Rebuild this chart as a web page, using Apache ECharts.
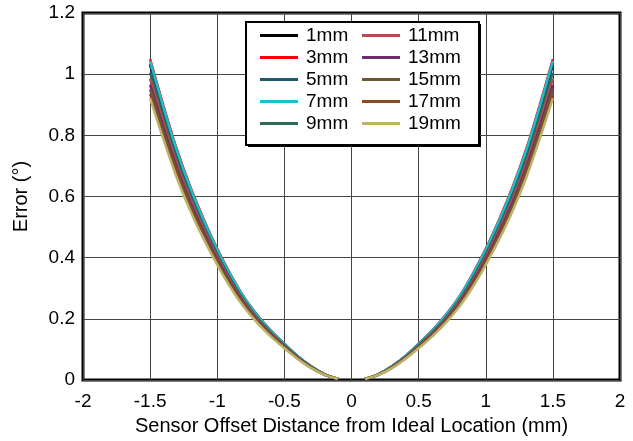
<!DOCTYPE html>
<html><head><meta charset="utf-8">
<script src="https://cdn.jsdelivr.net/npm/echarts@6/dist/echarts.min.js"></script>
<style>html,body{margin:0;padding:0;background:#fff}#c{width:633px;height:441px}</style>
</head><body><div id="c"></div>
<script>
const xValues = [-1.5,-1.4,-1.3,-1.2,-1.1,-1.0,-0.9,-0.8,-0.7,-0.6,-0.5,-0.4,-0.3,-0.2,-0.1,0.1,0.2,0.3,0.4,0.5,0.6,0.7,0.8,0.9,1.0,1.1,1.2,1.3,1.4,1.5];
const seriesNames = ['1mm','3mm','5mm','7mm','9mm','11mm','13mm','15mm','17mm','19mm'];
const seriesColors = ['#000000','#ff0000','#1d5a6c','#17bfd0','#2d6b57','#b14b52','#6a2f6c','#6d5632','#8a4a25','#b9b46a'];
const s1mm  = [1.030,0.879,0.738,0.619,0.515,0.421,0.338,0.266,0.208,0.159,0.116,0.077,0.044,0.019,0.004,0.004,0.019,0.044,0.077,0.116,0.159,0.208,0.266,0.338,0.421,0.515,0.619,0.738,0.879,1.030];
const s3mm  = [1.049,0.896,0.753,0.631,0.525,0.429,0.345,0.271,0.212,0.162,0.119,0.078,0.045,0.019,0.004,0.004,0.019,0.045,0.078,0.119,0.162,0.212,0.271,0.345,0.429,0.525,0.631,0.753,0.896,1.049];
const s5mm  = [1.035,0.883,0.742,0.622,0.517,0.423,0.340,0.268,0.209,0.160,0.117,0.077,0.044,0.019,0.004,0.004,0.019,0.044,0.077,0.117,0.160,0.209,0.268,0.340,0.423,0.517,0.622,0.742,0.883,1.035];
const s7mm  = [1.044,0.891,0.749,0.628,0.522,0.427,0.343,0.270,0.211,0.161,0.118,0.078,0.044,0.019,0.004,0.004,0.019,0.044,0.078,0.118,0.161,0.211,0.270,0.343,0.427,0.522,0.628,0.749,0.891,1.044];
const s9mm  = [1.005,0.858,0.721,0.604,0.502,0.411,0.330,0.260,0.203,0.155,0.114,0.075,0.043,0.018,0.004,0.004,0.018,0.043,0.075,0.114,0.155,0.203,0.260,0.330,0.411,0.502,0.604,0.721,0.858,1.005];
const s11mm = [0.985,0.841,0.706,0.592,0.493,0.403,0.323,0.255,0.199,0.152,0.111,0.074,0.042,0.018,0.004,0.004,0.018,0.042,0.074,0.111,0.152,0.199,0.255,0.323,0.403,0.493,0.592,0.706,0.841,0.985];
const s13mm = [0.965,0.824,0.692,0.580,0.483,0.395,0.317,0.250,0.195,0.149,0.109,0.072,0.041,0.018,0.004,0.004,0.018,0.041,0.072,0.109,0.149,0.195,0.250,0.317,0.395,0.483,0.580,0.692,0.824,0.965];
const s15mm = [0.950,0.811,0.682,0.571,0.475,0.389,0.312,0.246,0.192,0.147,0.108,0.071,0.040,0.017,0.004,0.004,0.017,0.040,0.071,0.108,0.147,0.192,0.246,0.312,0.389,0.475,0.571,0.682,0.811,0.950];
const s17mm = [0.936,0.799,0.671,0.562,0.468,0.383,0.307,0.242,0.189,0.145,0.106,0.070,0.040,0.017,0.004,0.004,0.017,0.040,0.070,0.106,0.145,0.189,0.242,0.307,0.383,0.468,0.562,0.671,0.799,0.936];
const s19mm = [0.921,0.786,0.660,0.553,0.460,0.377,0.302,0.238,0.186,0.142,0.104,0.069,0.039,0.017,0.004,0.004,0.017,0.039,0.069,0.104,0.142,0.186,0.238,0.302,0.377,0.460,0.553,0.660,0.786,0.921];
const allValues = [s1mm,s3mm,s5mm,s7mm,s9mm,s11mm,s13mm,s15mm,s17mm,s19mm];
const xTicks = {min:-2,max:2,interval:0.5};
const yTicks = {min:0,max:1.2,interval:0.2};

const FONT = 'Liberation Sans, Arial, sans-serif';
const chart = echarts.init(document.getElementById('c'), null, {renderer:'canvas'});
const series = seriesNames.map((n,i)=>{
  const data = xValues.map((x,j)=>[x, allValues[i][j]]);
  data.splice(15,0,[0,null]); // gap between the two branches
  return {
    name:n, type:'line', showSymbol:false, symbol:'none', smooth:0.3, connectNulls:false,
    data:data,
    lineStyle:{width:2.5,color:seriesColors[i]}, itemStyle:{color:seriesColors[i]}
  };
});

const legendCommon = {orient:'vertical', icon:'rect', itemWidth:38, itemHeight:3, itemGap:3,
  textStyle:{fontFamily:FONT,fontSize:19,color:'#000',padding:[0,0,0,3]}, top:21};
chart.setOption({
  animation:false,
  textStyle:{fontFamily:FONT},
  grid:{left:83,right:13,top:13,bottom:58,show:true,borderColor:'#000',borderWidth:3},
  xAxis:{type:'value',min:xTicks.min,max:xTicks.max,interval:xTicks.interval,
    name:'Sensor Offset Distance from Ideal Location (mm)',nameLocation:'middle',nameGap:33,
    nameTextStyle:{fontFamily:FONT,fontSize:20,color:'#000'},
    axisLine:{show:false},axisTick:{show:false},
    axisLabel:{fontFamily:FONT,fontSize:19,color:'#000',margin:12},
    splitLine:{show:true,lineStyle:{color:'#444',width:1}}},
  yAxis:{type:'value',min:yTicks.min,max:yTicks.max,interval:yTicks.interval,
    name:'Error (°)',nameLocation:'middle',nameGap:52,
    nameTextStyle:{fontFamily:FONT,fontSize:20,color:'#000'},
    axisLine:{show:false},axisTick:{show:false},
    axisLabel:{fontFamily:FONT,fontSize:19,color:'#000',margin:8},
    splitLine:{show:true,lineStyle:{color:'#444',width:1}}},
  legend:[
    Object.assign({},legendCommon,{left:255,data:seriesNames.slice(0,5)}),
    Object.assign({},legendCommon,{left:357,data:seriesNames.slice(5)})
  ],
  graphic:[
    {type:'rect',left:248,top:24,z:0,shape:{width:233,height:123},style:{fill:'#000'}},
    {type:'rect',left:245,top:21,z:1,shape:{width:233,height:123},style:{fill:'#fff',stroke:'#000',lineWidth:2}}
  ],
  series:series
});
</script></body></html>
